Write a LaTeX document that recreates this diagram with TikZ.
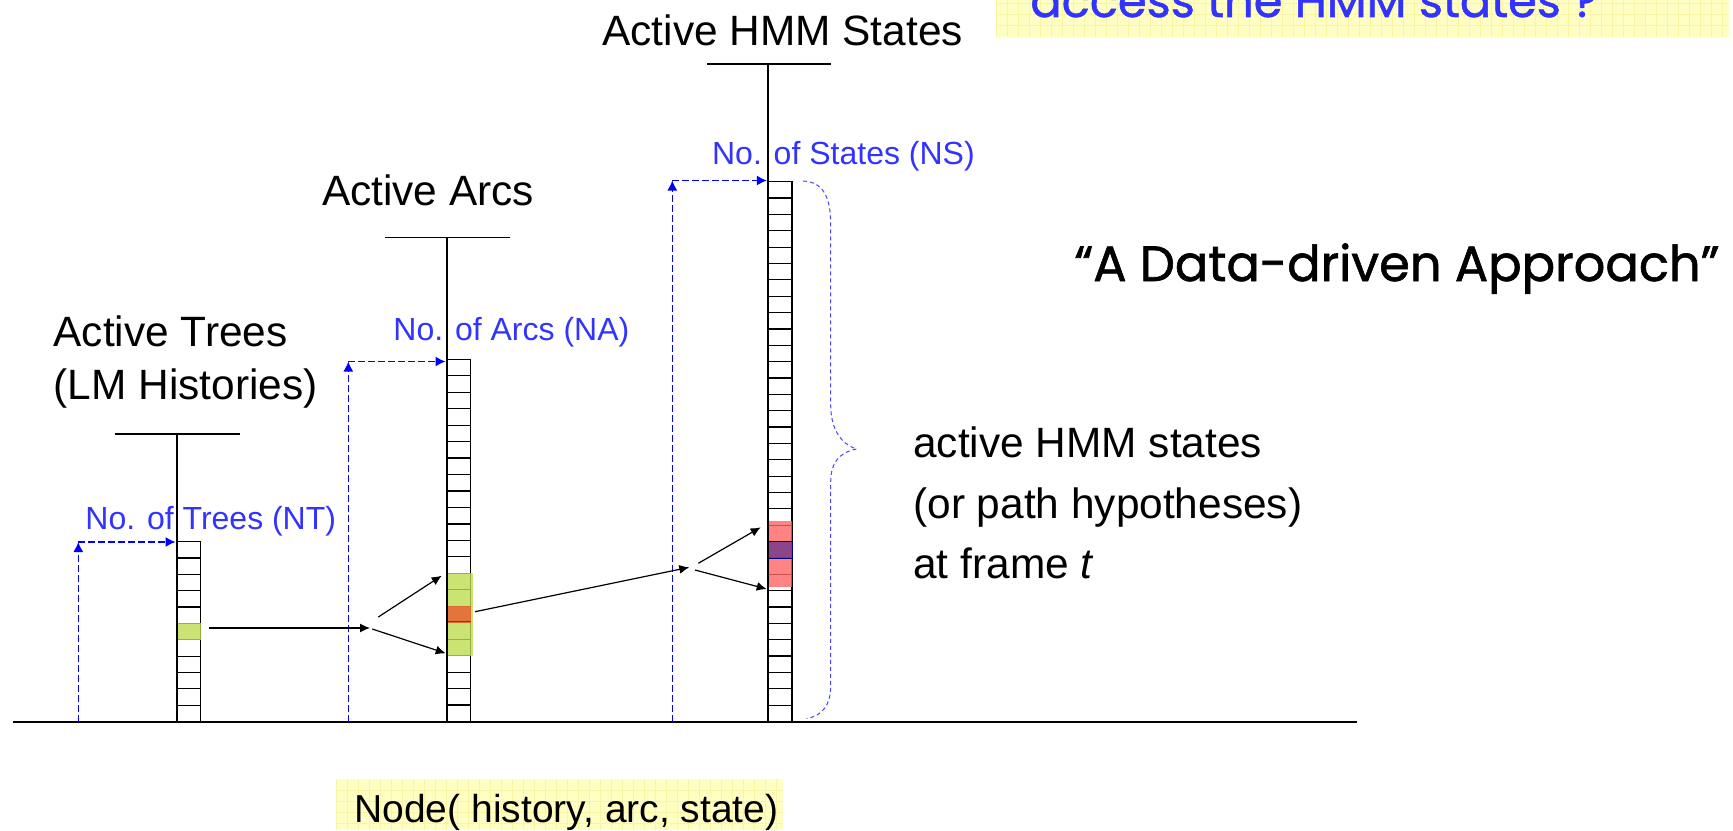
\documentclass[tikz,border=0pt]{standalone}
\usepackage{fontspec}
\setmainfont{Liberation Sans}
\newfontfamily\comicfont{Poppins}[FakeBold=1.2]
\usetikzlibrary{arrows.meta}
\definecolor{lblblue}{RGB}{51,51,255}
\definecolor{dblue}{RGB}{0,0,255}
\definecolor{bracebl}{RGB}{70,70,255}
\definecolor{paleyel}{RGB}{255,255,196}
\definecolor{gridyel}{RGB}{250,244,165}
\definecolor{cgreen}{RGB}{190,220,80}
\definecolor{corange}{RGB}{232,96,50}
\definecolor{cred}{RGB}{255,100,100}
\definecolor{cpurple}{RGB}{100,50,140}
\newcommand\drawcolumn[5]{%
  \pgfmathsetmacro\colh{(#4-#3)/#5}%
  \foreach \k in {1,...,#5} {\draw[cellbox] (#1,{#3+(\k-1)*\colh}) rectangle (#2,{#3+\k*\colh});}%
}
\begin{document}
\begin{tikzpicture}[x=0.5pt,y=-0.5pt,
  txt/.style={anchor=base west,inner sep=0pt,font=\fontsize{21.2}{25}\selectfont},
  lbl/.style={anchor=base west,inner sep=0pt,text=lblblue,font=\fontsize{16}{19}\selectfont},
  stem/.style={line width=0.9pt},
  tbar/.style={line width=0.8pt},
  cellbox/.style={line width=0.6pt},
  ygrid/.style={gridyel,line width=0.3pt},
  arr/.style={line width=0.6pt,-{Latex[length=5pt,width=4.5pt]}},
  blarr/.style={dblue,line width=0.65pt,dash pattern=on 3.3pt off 1.7pt,-{Latex[length=5pt,width=5pt]}},
]
\useasboundingbox (0,0) rectangle (1733,830);
\clip (0,0) rectangle (1733,830);

% yellow boxes
\fill[paleyel] (996,0) rectangle (1729,36.7);
\foreach \gx in {996,1007,...,1729} \draw[ygrid] (\gx,0) -- (\gx,36.7);
\foreach \gy in {3,14,25} \draw[ygrid] (996,\gy) -- (1729,\gy);
\fill[paleyel] (336,779) rectangle (783,830);
\foreach \gx in {336,347,...,783} \draw[ygrid] (\gx,779) -- (\gx,830);
\foreach \gy in {790,801,812,823} \draw[ygrid] (336,\gy) -- (783,\gy);

\node[anchor=base west,inner sep=0pt,text=lblblue] (question) at (1030,17)
  {\resizebox{283.5pt}{!}{\comicfont access the HMM states ?}};
\node[anchor=base west,inner sep=0pt,font=\fontsize{19.5}{23}\selectfont] (nodelbl) at (354,822) {Node( history, arc, state)};
\node[anchor=base west,inner sep=0pt] (approach) at (1074,281)
  {\resizebox{322.5pt}{!}{\comicfont “A Data-driven Approach”}};

% titles
\node[txt] (tstates) at (602,45) {Active HMM States};
\node[txt] (tarcs) at (321.6,205) {Active Arcs};
\node[txt] (ttrees) at (53.3,346) {Active Trees};
\node[txt] (ttrees2) at (53.3,399) {(LM Histories)};

\node[lbl] (lnt) at (85,529) {No. of Trees (NT)};
\node[lbl] (lna) at (393,340) {No. of Arcs (NA)};
\node[lbl] (lns) at (711.7,164) {No. of States (NS)};

\node[txt] (desc1) at (913,457) {active HMM states};
\node[txt] (desc2) at (913,518) {(or path hypotheses)};
\node[txt] (desc3) at (913,578.5) {at frame \textit{t}};

% baseline
\coordinate (bl0) at (13,722.3);
\coordinate (bl1) at (1357,722.3);
\draw[line width=0.9pt] (bl0) -- (bl1);

% columns
\drawcolumn{176.7}{200.7}{541.7}{721.5}{11}
\drawcolumn{446.7}{470.7}{359.3}{721.5}{22}
\drawcolumn{768}{792}{181.7}{721.5}{33}

% coloured cells
\fill[cgreen,opacity=0.8] (176.7,623.4) rectangle (200.7,639.7);
\fill[cgreen,opacity=0.8] (446.7,573.3) rectangle (472.7,655.7);
\fill[corange,opacity=0.85] (446.7,606.3) rectangle (470.7,622.7);
\draw[red,line width=0.5pt] (446.7,621.5) -- (470.7,621.5);
\fill[cred,opacity=0.8] (768,520.7) rectangle (792,587.3);
\fill[cpurple,opacity=0.75] (768,541.6) rectangle (792,558);
\draw[blue!50!black,line width=0.5pt] (768,541.6) rectangle (792,558);

% stems and T bars
\coordinate (trT) at (176.7,434);   \coordinate (trB) at (176.7,722);
\coordinate (arT) at (446.7,237.6); \coordinate (arB) at (446.7,722);
\coordinate (stT) at (768,64);      \coordinate (stB) at (768,722);
\draw[stem] (trT) -- (trB);
\draw[stem] (arT) -- (arB);
\draw[stem] (stT) -- (stB);
\draw[tbar] (115,434) -- (240,434);
\draw[tbar] (384.6,237.6) -- (509.5,237.6);
\draw[tbar] (707.3,64) -- (831,64);

% blue dashed "number" arrows
\coordinate (ntB) at (78.3,722);  \coordinate (ntC) at (78.3,542);  \coordinate (ntE) at (175.5,542);
\coordinate (naB) at (348.3,722); \coordinate (naC) at (348.3,361.5); \coordinate (naE) at (445.5,361.5);
\coordinate (nsB) at (672.3,722); \coordinate (nsC) at (672.3,180.5); \coordinate (nsE) at (766.8,180.5);
\draw[blarr] (ntB) -- (ntC);
\draw[blarr] (ntC) -- (ntE);
\draw[blarr] (naB) -- (naC);
\draw[blarr] (naC) -- (naE);
\draw[blarr] (nsB) -- (nsC);
\draw[blarr] (nsC) -- (nsE);

% dashed brace
\draw[bracebl,line width=0.5pt,dash pattern=on 2pt off 1.5pt]
  (803,181) .. controls (822,182) and (830.7,195) .. (830.7,225)
  -- (830.7,405) .. controls (830.7,425) and (838,443) .. (856.7,449)
  .. controls (840,452) and (830.7,462) .. (830.7,482)
  -- (830.7,686) .. controls (830.7,705) and (822,716) .. (806.7,718.5);

% black arrows
\coordinate (a1s) at (209,628);     \coordinate (a1e) at (370,628);
\coordinate (a2s) at (378.3,617);   \coordinate (a2e) at (441.7,575.7);
\coordinate (a3s) at (372.3,629);   \coordinate (a3e) at (445.7,653.3);
\coordinate (a4s) at (475,611.7);   \coordinate (a4e) at (689.3,567.3);
\coordinate (a5s) at (698.3,563.3); \coordinate (a5e) at (760.7,527.3);
\coordinate (a6s) at (695,570);     \coordinate (a6e) at (766.7,589);
\draw[arr] (a1s) -- (a1e);
\draw[arr] (a2s) -- (a2e);
\draw[arr] (a3s) -- (a3e);
\draw[arr] (a4s) -- (a4e);
\draw[arr] (a5s) -- (a5e);
\draw[arr] (a6s) -- (a6e);
\end{tikzpicture}
\end{document}
